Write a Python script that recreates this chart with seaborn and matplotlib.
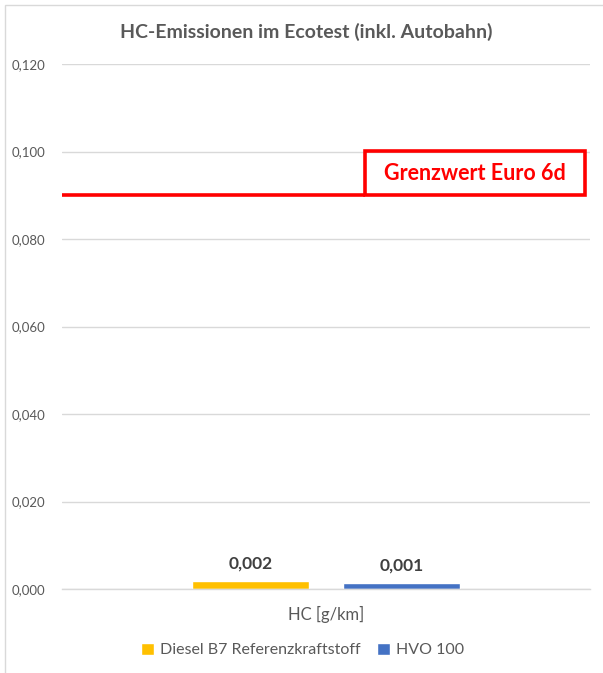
import matplotlib
matplotlib.use("Agg")
import matplotlib.pyplot as plt
import matplotlib.transforms as mtransforms
from matplotlib.patches import Rectangle
from matplotlib.ticker import FuncFormatter
import pandas as pd
import seaborn as sns

# Data
title = "HC-Emissionen im Ecotest (inkl. Autobahn)"
category = ["HC [g/km]", "HC [g/km]"]
fuels = ["Diesel B7 Referenzkraftstoff", "HVO 100"]
values = [0.0018, 0.0013]
colors = ["#FFC000", "#4472C4"]
limit_value = 0.090
limit_label = "Grenzwert Euro 6d"
y_ticks = [0.0, 0.02, 0.04, 0.06, 0.08, 0.10, 0.12]

df = pd.DataFrame({"Kategorie": category, "Kraftstoff": fuels, "Wert": values})

sns.set_theme(style="white")
plt.rcParams["font.family"] = ["Lato", "DejaVu Sans"]

grey = "#595959"
fig = plt.figure(figsize=(6.03, 6.73), dpi=100)
ax = fig.add_axes([62 / 603, 1 - 589 / 673, 528 / 603, (589 - 64) / 673])

sns.barplot(data=df, x="Kategorie", y="Wert", hue="Kraftstoff",
            palette=colors, width=0.572, gap=0.22, ax=ax,
            saturation=1, legend=True)

ax.set_xlim(-0.5, 0.5)
ax.set_ylim(0, 0.12)
ax.set_yticks(y_ticks)
ax.yaxis.set_major_formatter(FuncFormatter(lambda v, p: f"{v:.3f}".replace(".", ",")))
ax.tick_params(axis="y", length=0, pad=12, labelsize=9.5, labelcolor=grey)
ax.tick_params(axis="x", length=0, pad=12, labelsize=12, labelcolor=grey)
ax.set_xlabel("")
ax.set_ylabel("")
ax.grid(axis="y", color="#D9D9D9", linewidth=1)
ax.set_axisbelow(True)
for s in ["left", "right", "top"]:
    ax.spines[s].set_visible(False)
ax.spines["bottom"].set_color("#D9D9D9")
ax.spines["bottom"].set_linewidth(1)

# Value labels above bars
for cont in ax.containers:
    ax.bar_label(cont, labels=[f"{v:.3f}".replace(".", ",") for v in cont.datavalues],
                 padding=7, fontsize=12.5, fontweight="bold", color="#404040")

# Limit line with labelled box
trans = mtransforms.blended_transform_factory(ax.transAxes, ax.transData)
box_left, box_right = (365 - 62) / 528, (585 - 62) / 528
ax.plot([0, box_left], [limit_value, limit_value], color="#FF0000",
        linewidth=2.6, transform=trans, clip_on=False, solid_capstyle="butt")
box_h = 0.0101
ax.add_patch(Rectangle((box_left, limit_value), box_right - box_left, box_h,
                       transform=trans, fill=False, edgecolor="#FF0000",
                       linewidth=2.6, clip_on=False))
ax.text((box_left + box_right) / 2, limit_value + box_h / 2, limit_label,
        transform=trans, ha="center", va="center", color="#FF0000",
        fontsize=15.5, fontweight="bold")

# Legend
handles, labels = ax.get_legend_handles_labels()
ax.legend(handles, labels, loc="center", bbox_to_anchor=(0.5 + 1 / 603, (673 - 650) / 673),
          bbox_transform=fig.transFigure, ncol=2, frameon=False,
          fontsize=11.5, labelcolor=grey, handlelength=0.8, handleheight=0.8,
          handletextpad=0.4, columnspacing=1.0)

fig.text(0.5 + 5 / 603, 1 - 32 / 673, title, ha="center", va="center",
         fontsize=14, fontweight="bold", color=grey)

# Chart border
fig.patches.append(Rectangle((5 / 603, -0.01), 1.0, 1 - 5 / 673 + 0.01,
                             transform=fig.transFigure, fill=False,
                             edgecolor="#D9D9D9", linewidth=1))

fig.savefig("out.png", dpi=100)
